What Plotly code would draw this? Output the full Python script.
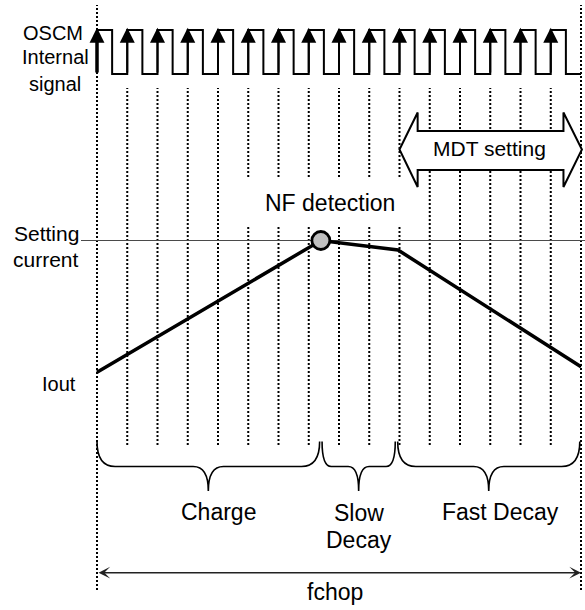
import plotly.graph_objects as go

W, H = 585, 610

# ---------------- data ----------------
n_periods = 16                          # OSCM clock periods in one chopping cycle
duty = 0.5                              # clock high fraction
clock_low, clock_high = 0, 1
current_t = [0.0, 7.4, 9.95, 16.0]      # time (OSCM periods)
current_i = [0.0, 1.0, 0.928, 0.042]    # current relative to setting current
setting_current = 1.0
nf_t, nf_i = 7.4, 1.0                   # NF detection point
phase_labels = ["Charge", "Slow", "Decay", "Fast Decay"]
phase_edges = [0.0, 7.4, 9.9, 16.0]     # Charge | Slow Decay | Fast Decay
mdt_start, mdt_end = 10.0, 16.0         # MDT setting span

# ---------------- geometry helpers ----------------
X0_PX, PX_PER_T = 97.0, 30.25           # t=0 pixel column, pixels per period
I0_PX, I1_PX = 372.3, 240.5             # pixel rows of current 0 and 1
C0_PX, C1_PX = 74.0, 30.0               # pixel rows of clock low / high
FONT = "Liberation Sans, Arial, sans-serif"


def py(px):
    return 1 - px / H


def tx(px):
    return (px - X0_PX) / PX_PER_T


# clock waveform
clk_x, clk_y = [0.0], [clock_low]
for k in range(n_periods):
    clk_x += [k, k + duty]
    clk_y += [clock_high, clock_low]
clk_x.append(float(n_periods))
clk_y.append(clock_low)

fig = go.Figure()
fig.add_trace(go.Scatter(x=clk_x, y=clk_y, yaxis="y2", mode="lines",
                         line=dict(color="black", width=2, shape="hv"),
                         hoverinfo="skip"))
fig.add_trace(go.Scatter(x=current_t, y=current_i, mode="lines",
                         line=dict(color="black", width=3.5), hoverinfo="skip"))
fig.add_trace(go.Scatter(x=[nf_t], y=[nf_i], mode="markers",
                         marker=dict(size=18, color="#c0c0c0",
                                     line=dict(color="black", width=2.8)),
                         hoverinfo="skip"))

shapes = []
# vertical dotted lines at every clock edge
for k in range(n_periods + 1):
    if k in (0, n_periods):
        y0, y1 = py(590), py(5)
    else:
        y0, y1 = py(445), py(88)
    shapes.append(dict(type="line", xref="x", yref="paper", x0=k, x1=k, y0=y0, y1=y1,
                       line=dict(color="black", width=2, dash="2px,2px"), layer="below"))
# setting current reference line
shapes.append(dict(type="line", xref="x", yref="y", x0=tx(81), x1=tx(W + 5),
                   y0=setting_current, y1=setting_current,
                   line=dict(color="#4a4a4a", width=1.2), layer="below"))
# white box behind "NF detection"
shapes.append(dict(type="rect", xref="x", yref="paper", x0=tx(234), x1=tx(406),
                   y0=py(227), y1=py(178), fillcolor="white", line=dict(width=0),
                   layer="below"))
# MDT setting double block arrow
hl = 0.6
yt, ybt, ybb, yb, yc = py(112.5), py(131), py(170), py(187), py(149.5)
mdt_path = (f"M{mdt_start},{yc} L{mdt_start+hl},{yt} L{mdt_start+hl},{ybt} "
            f"L{mdt_end-hl+0.02},{ybt} L{mdt_end-hl+0.02},{yt} L{mdt_end+0.03},{yc} "
            f"L{mdt_end-hl+0.02},{yb} L{mdt_end-hl+0.02},{ybb} L{mdt_start+hl},{ybb} "
            f"L{mdt_start+hl},{yb} Z")
shapes.append(dict(type="path", xref="x", yref="paper", path=mdt_path,
                   fillcolor="white", line=dict(color="black", width=2), layer="below"))

# curly braces under each phase
by_top, by_mid, by_bot = py(441.5), py(466.5), py(491)


def brace(x0, x1, xm, r, rc):
    return (f"M{x0},{by_top} Q{x0},{by_mid} {x0+r},{by_mid} L{xm-rc},{by_mid} "
            f"Q{xm},{by_mid} {xm},{by_bot} Q{xm},{by_mid} {xm+rc},{by_mid} "
            f"L{x1-r},{by_mid} Q{x1},{by_mid} {x1},{by_top}")


gap = 0.04
for i in range(3):
    a = phase_edges[i] + (gap if i > 0 else 0.0)
    b = phase_edges[i + 1] - gap
    w = b - a
    r = min(0.6, w / 8)
    rc = min(0.5, w / 7)
    shapes.append(dict(type="path", xref="x", yref="paper", path=brace(a, b, (a + b) / 2, r, rc),
                       line=dict(color="black", width=1.6), layer="below"))

annotations = []
# rising-edge arrows on the clock
for k in range(n_periods):
    first = k == 0
    annotations.append(dict(x=k, y=1.05, xref="x", yref="y2", ax=k, ay=clock_low,
                            axref="x", ayref="y2", text="", showarrow=True,
                            arrowhead=2, arrowcolor="black",
                            arrowwidth=3.5 if first else 2,
                            arrowsize=0.85 if first else 1.5))
# fchop double arrow
annotations.append(dict(x=n_periods, y=py(572.7), xref="x", yref="paper",
                        ax=0, ay=0, axref="x", ayref="pixel", text="", showarrow=True,
                        arrowside="end+start", arrowhead=3, startarrowhead=3,
                        arrowsize=1.3, startarrowsize=1.3, arrowwidth=1.5,
                        arrowcolor="#222222"))


def txt(s, xpx, ypx, size):
    annotations.append(dict(text=s, x=xpx / W, y=py(ypx), xref="paper", yref="paper",
                            xanchor="center", yanchor="middle", showarrow=False,
                            font=dict(family=FONT, size=size, color="black")))


txt("OSCM", 52.5, 32.5, 20)
txt("Internal", 55.8, 57.5, 20)
txt("signal", 55, 84, 20)
txt("Setting", 46, 233, 21)
txt("current", 46, 259.5, 21)
txt("Iout", 59, 383.5, 20)
txt("NF detection", 330, 202.5, 23)
txt("MDT setting", 489.7, 149, 21)
txt(phase_labels[0], 218.3, 512, 23)
txt(phase_labels[1], 358.7, 513, 23)
txt(phase_labels[2], 359, 540, 23)
txt(phase_labels[3], 500.8, 512, 23)
txt("fchop", 335, 592, 23)

fig.update_layout(
    width=W, height=H, autosize=False,
    margin=dict(l=0, r=0, t=0, b=0, pad=0),
    paper_bgcolor="white", plot_bgcolor="white", showlegend=False,
    xaxis=dict(visible=False, range=[tx(0), tx(W)], fixedrange=True),
    yaxis=dict(visible=False, fixedrange=True,
               range=[-(H - I0_PX) / (I0_PX - I1_PX), I0_PX / (I0_PX - I1_PX)]),
    yaxis2=dict(visible=False, overlaying="y", fixedrange=True,
                range=[-(H - C0_PX) / (C0_PX - C1_PX), C0_PX / (C0_PX - C1_PX)]),
    shapes=shapes, annotations=annotations,
)

fig.write_html("out.html", config={"displayModeBar": False},
               post_script="document.body.style.margin='0';document.body.style.overflow='hidden';")
